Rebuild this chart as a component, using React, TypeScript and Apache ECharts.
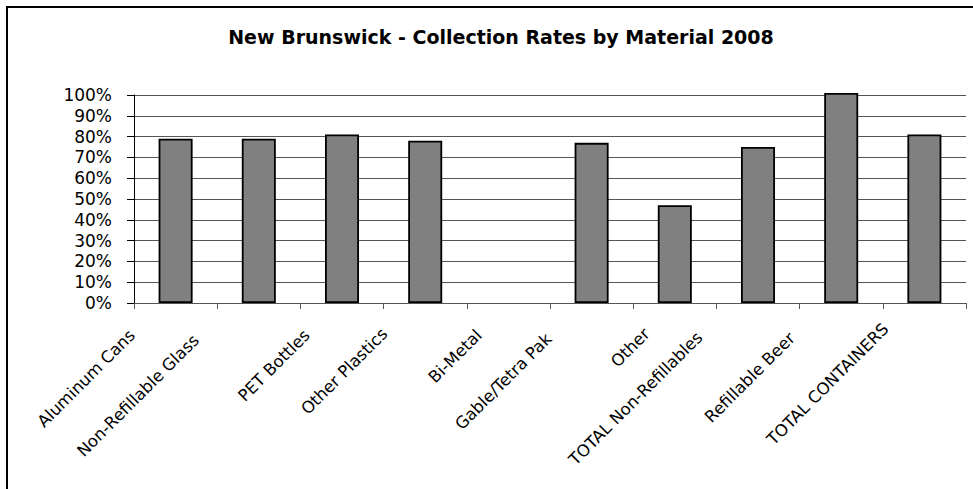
import React, { useEffect, useRef } from "react";
import * as echarts from "echarts";

const titleText = "New Brunswick - Collection Rates by Material 2008";
const categories = [
  "Aluminum Cans",
  "Non-Refillable Glass",
  "PET Bottles",
  "Other Plastics",
  "Bi-Metal",
  "Gable/Tetra Pak",
  "Other",
  "TOTAL Non-Refillables",
  "Refillable Beer",
  "TOTAL CONTAINERS",
];
const collectionRates: (number | null)[] = [79, 79, 81, 78, null, 77, 47, 75, 101, 81];
const yTicks = [0, 10, 20, 30, 40, 50, 60, 70, 80, 90, 100];

// per-label paddings [top, right, bottom, left] to mimic the reference label placement
const labelPads: number[][] = [
  [0, 46, 7, 0],
  [0, 63, 17, 0],
  [0, 40, 1, 0],
  [0, 43, 6, 0],
  [0, 36, -3, 0],
  [0, 48, 4, 0],
  [0, 34, -3, 0],
  [0, 58, 16, 0],
  [0, 52, 9, 0],
  [0, 38, 8, 0],
];

const FONT = "'DejaVu Sans', Verdana, sans-serif";

export default function App() {
  const ref = useRef<HTMLDivElement>(null);
  useEffect(() => {
    if (!ref.current) return;
    const chart = echarts.init(ref.current, null, { renderer: "svg" });
    chart.setOption({
      animation: false,
      backgroundColor: "#ffffff",
      title: {
        text: titleText,
        left: 496,
        top: 22,
        textAlign: "center",
        textStyle: { fontFamily: FONT, fontWeight: "bold", fontSize: 19, color: "#000" },
      },
      graphic: [
        {
          type: "rect",
          shape: { x: 7, y: 7, width: 1100, height: 700 },
          style: { fill: "none", stroke: "#000", lineWidth: 2 },
          silent: true,
        },
      ],
      grid: { left: 134, right: 7, top: 95, bottom: 186, containLabel: false },
      xAxis: {
        type: "category",
        data: categories.map((c, i) => ({
          value: c,
          textStyle: { padding: labelPads[i], verticalAlign: "bottom" },
        })),
        axisLine: { show: true, lineStyle: { color: "#555", width: 1 } },
        axisTick: { show: true, length: 6, lineStyle: { color: "#555" } },
        axisLabel: {
          interval: 0,
          rotate: 45,
          margin: 8,
          fontFamily: FONT,
          fontSize: 16.5,
          color: "#000",
        },
        splitLine: { show: false },
      },
      yAxis: {
        type: "value",
        min: yTicks[0],
        max: yTicks[yTicks.length - 1],
        interval: 10,
        axisLine: { show: true, lineStyle: { color: "#000", width: 1 } },
        axisTick: { show: true, length: 7, lineStyle: { color: "#000" } },
        axisLabel: {
          formatter: "{value}%",
          margin: 22,
          fontFamily: FONT,
          fontSize: 17,
          color: "#000",
        },
        splitLine: { show: true, lineStyle: { color: "#555", width: 1 } },
      },
      series: [
        {
          type: "bar",
          data: collectionRates,
          barWidth: 34,
          clip: false,
          itemStyle: { color: "#808080", borderColor: "#000", borderWidth: 1.8 },
        },
      ],
    });
    return () => chart.dispose();
  }, []);
  return (
    <div
      ref={ref}
      style={{ position: "absolute", left: 0, top: 0, width: 973, height: 489, background: "#fff" }}
    />
  );
}
